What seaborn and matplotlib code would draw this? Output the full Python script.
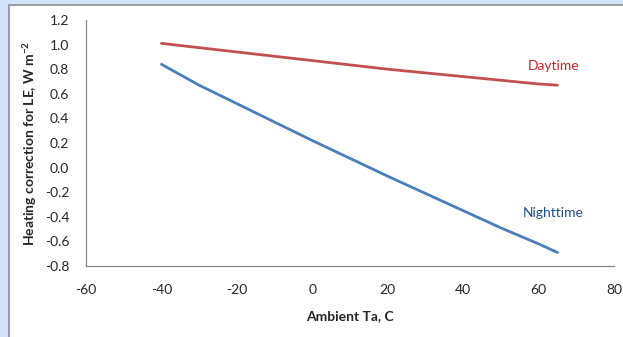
import pandas as pd
import numpy as np
import matplotlib.pyplot as plt
import seaborn as sns
from matplotlib.patches import Rectangle

ta = [-40, -30, -20, -10, 0, 10, 20, 30, 40, 50, 60, 65]
daytime = [1.01, 0.975, 0.94, 0.905, 0.87, 0.835, 0.80, 0.77, 0.74, 0.71, 0.68, 0.67]
nighttime = [0.84, 0.67, 0.52, 0.37, 0.22, 0.075, -0.07, -0.21, -0.35, -0.49, -0.62, -0.69]
yticks = [-0.8, -0.6, -0.4, -0.2, 0.0, 0.2, 0.4, 0.6, 0.8, 1.0, 1.2]

df = pd.DataFrame({
    'ta': ta * 2,
    'value': daytime + nighttime,
    'period': ['Daytime'] * len(ta) + ['Nighttime'] * len(ta),
})

sns.set_style('white')
plt.rcParams['font.family'] = ['Lato', 'DejaVu Sans']
plt.rcParams['axes.unicode_minus'] = False

fig = plt.figure(figsize=(6.23, 3.37), dpi=100)
fig.patch.set_facecolor('#d3e2fa')
# white chart area with grey frame (slide-like background strip on top/left)
fig.patches.append(Rectangle((9 / 623, -0.01), 1.0, 1 - 5 / 337 + 0.01,
                             transform=fig.transFigure, facecolor='white',
                             edgecolor='#8c8c8c', linewidth=1.2, zorder=-5))

ax = fig.add_axes([86 / 623, 1 - 266 / 337, (614 - 86) / 623, (266 - 20) / 337])
ax.set_facecolor('none')
sns.lineplot(data=df, x='ta', y='value', hue='period',
             palette={'Daytime': '#c0504d', 'Nighttime': '#4a7ebb'},
             linewidth=2, legend=False, ax=ax)

ax.set_xlim(-60, 80)
ax.set_ylim(-0.8, 1.2)
ax.set_xticks(np.arange(-60, 81, 20))
ax.set_yticks(yticks)
ax.set_yticklabels([f'{v:.1f}' for v in yticks])
ax.tick_params(axis='both', direction='out', length=4, width=0.8,
               color='#888888', labelsize=10, pad=8)
ax.tick_params(axis='x', pad=9)
for s in ['top', 'right']:
    ax.spines[s].set_visible(False)
for s in ['left', 'bottom']:
    ax.spines[s].set_color('#888888')
    ax.spines[s].set_linewidth(0.9)

ax.set_xlabel('Ambient Ta, C', fontsize=10, fontweight='bold', labelpad=10)
ax.set_ylabel('Heating correction for LE, W m$^{\\mathregular{-2}}$', fontsize=10,
              fontweight='bold', labelpad=4)

ax.text(64, 0.83, 'Daytime', color='#cc2222', fontsize=10, ha='center', va='center')
ax.text(64, -0.37, 'Nighttime', color='#1f4e8c', fontsize=10, ha='center', va='center')

fig.savefig('out.png', dpi=100, facecolor=fig.get_facecolor())
